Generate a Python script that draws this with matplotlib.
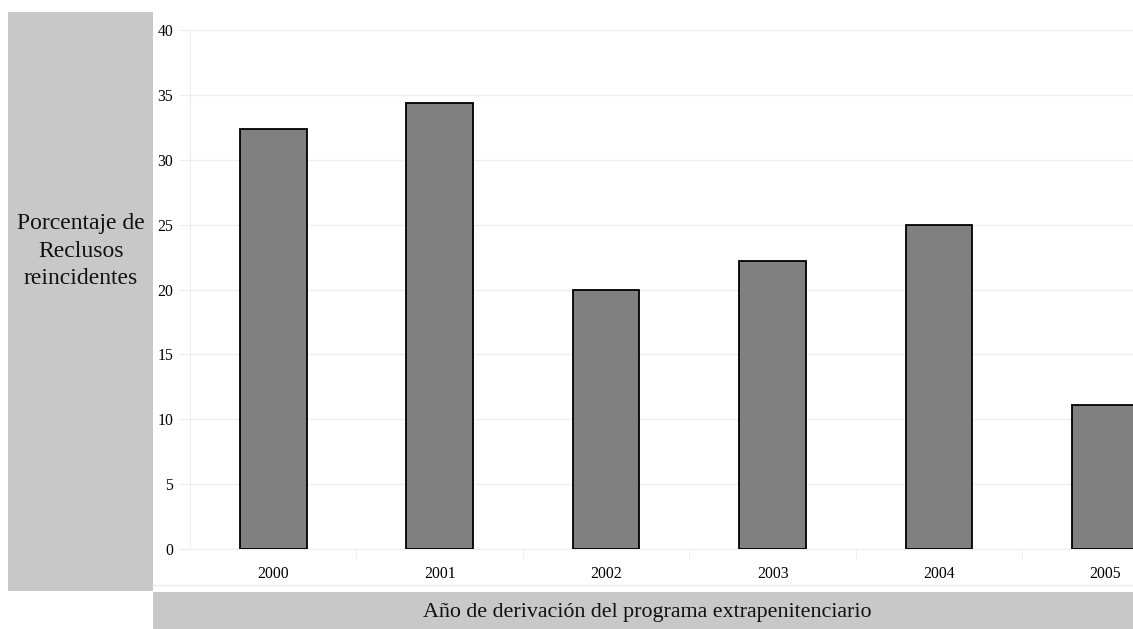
import matplotlib
matplotlib.use("Agg")
import matplotlib.pyplot as plt
from matplotlib.patches import Rectangle

years = ["2000", "2001", "2002", "2003", "2004", "2005"]
reincidence = [32.4, 34.4, 20.0, 22.2, 25.0, 11.1]
y_ticks = [0, 5, 10, 15, 20, 25, 30, 35, 40]

W, H = 1133, 629
fig = plt.figure(figsize=(W / 100, H / 100), dpi=100)
plt.rcParams["font.family"] = ["Liberation Serif", "DejaVu Serif"]

def fx(px):
    return px / W

def fy(py):
    return 1 - py / H

# Grey side panel for the y title
fig.patches.append(Rectangle((fx(8), fy(591)), fx(153) - fx(8), fy(12) - fy(591),
                             transform=fig.transFigure, facecolor="#c8c8c8",
                             edgecolor="none", zorder=0))
# Grey bottom panel for the x title
fig.patches.append(Rectangle((fx(153), 0), 1 - fx(153), fy(592),
                             transform=fig.transFigure, facecolor="#c8c8c8",
                             edgecolor="none", zorder=0))
# faint separator line under the plot area
fig.add_artist(plt.Line2D([fx(153), 1], [fy(585), fy(585)], transform=fig.transFigure,
                          color="#ececec", lw=1))

ax = fig.add_axes([fx(190), fy(549), 1 - fx(190), fy(30) - fy(549)])
x = list(range(len(years)))
ax.bar(x, reincidence, width=0.4, color="#808080", edgecolor="black", linewidth=1.3, zorder=3)

ax.set_ylim(0, 40)
ax.set_xlim(-0.5, (W - 273) / 166.5)
ax.set_yticks(y_ticks)
ax.set_yticklabels([str(t) for t in y_ticks], fontsize=11.3)
ax.set_xticks(x)
ax.set_xticklabels(years, fontsize=11.3)
ax.set_xticks([i + 0.5 for i in range(len(years) - 1)], minor=True)
ax.tick_params(axis="x", which="major", length=0, pad=12)
ax.tick_params(axis="x", which="minor", length=7, color="#ececec")
ax.tick_params(axis="y", length=8, color="#ececec", pad=4)
ax.grid(axis="y", color="#efefef", lw=1, zorder=0)
for s in ["top", "right"]:
    ax.spines[s].set_visible(False)
ax.spines["left"].set_color("#ececec")
ax.spines["bottom"].set_color("#efefef")

fig.text(fx(81), fy(251), "Porcentaje de\nReclusos\nreincidentes", ha="center", va="center",
         fontsize=17, linespacing=1.38, color="#111111")
fig.text(fx(647), fy(613), "Año de derivación del programa extrapenitenciario",
         ha="center", va="center", fontsize=15.8, color="#111111")

fig.savefig("out.png", dpi=100, facecolor="white")
